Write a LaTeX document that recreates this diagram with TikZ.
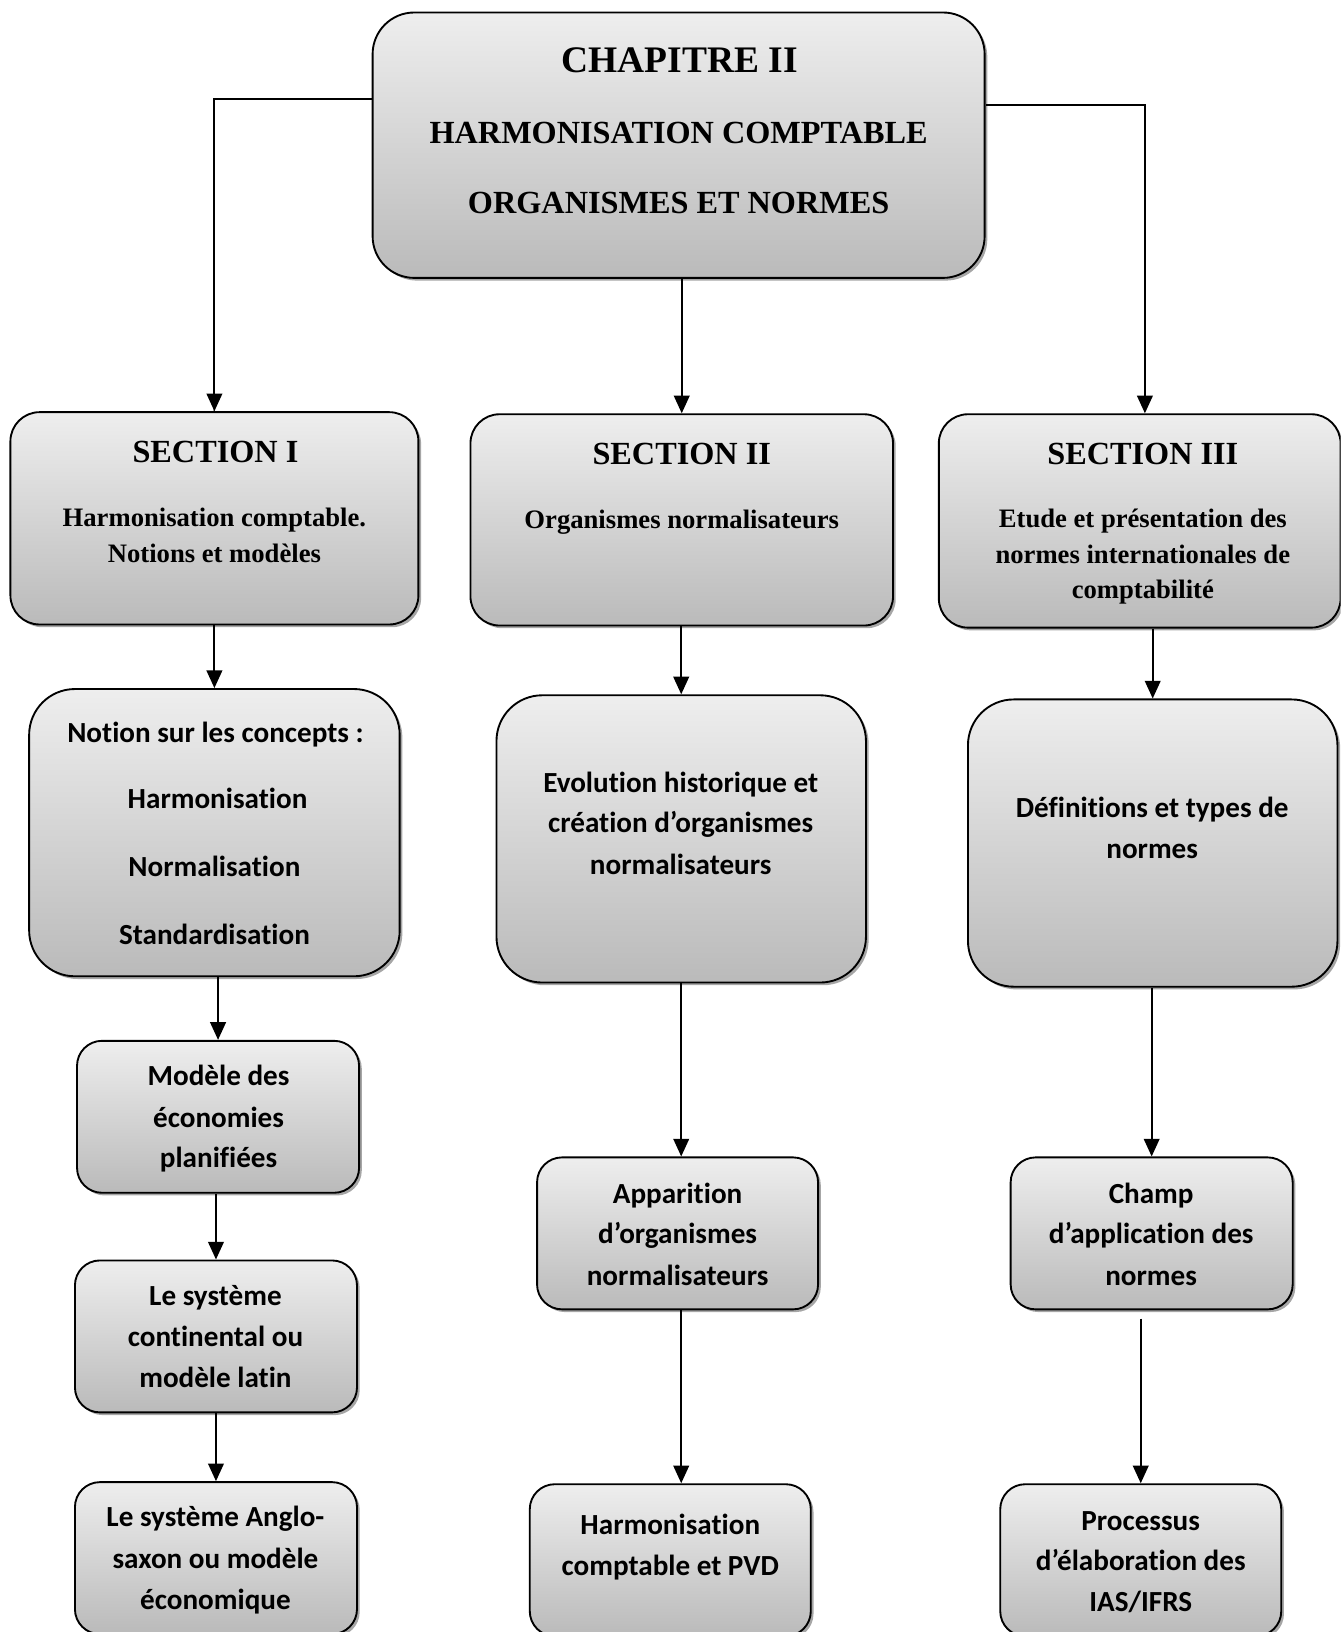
\documentclass[tikz,border=0pt]{standalone}
\usepackage{fontspec}
\setmainfont{Liberation Serif}
\newfontfamily\calfont[Ligatures=NoCommon]{Carlito}
\usetikzlibrary{arrows.meta,shadows}
\definecolor{gtop}{RGB}{238,238,238}
\definecolor{gbot}{RGB}{186,186,186}
\tikzset{
  gbox/.style={draw=black, line width=0.9pt, rounded corners=#1, top color=gtop, bottom color=gbot,
    drop shadow={shadow xshift=1.3pt, shadow yshift=-1.3pt, fill=black!50, opacity=0.7}, inner sep=0pt},
  gbox/.default=12pt,
  tA/.style={anchor=base, inner sep=0pt, font=\bfseries\fontsize{18}{20}\selectfont},
  tB/.style={anchor=base, inner sep=0pt, font=\bfseries\fontsize{15.5}{17}\selectfont},
  tC/.style={anchor=base, inner sep=0pt, font=\bfseries\fontsize{12.8}{14}\selectfont},
  tD/.style={anchor=base, inner sep=0pt, font=\calfont\bfseries\fontsize{14}{16}\selectfont},
  arr/.style={line width=1pt, -{Triangle[length=8.5pt,width=7.5pt]}},
  shd/.style={line width=1pt, draw=black!35, shift={(1.3pt,-1.3pt)}},
}
\begin{document}
\begin{tikzpicture}[x=0.5pt,y=-0.5pt]
\useasboundingbox (0,0) rectangle (1288,1568);
\clip (0,0) rectangle (1288,1568);
% boxes
\node[gbox=20pt, minimum width=294pt, minimum height=127.5pt] (top) at (652,139.5) {};
\node[gbox=14pt, minimum width=196pt, minimum height=102pt] (s1) at (206,498) {};
\node[gbox=14pt, minimum width=203pt, minimum height=101.5pt] (s2) at (655,499.5) {};
\node[gbox=14pt, minimum width=193pt, minimum height=102.5pt] (s3) at (1095,500.5) {};
\node[gbox=22pt, minimum width=178pt, minimum height=138pt] (n1) at (206,800) {};
\node[gbox=22pt, minimum width=177.5pt, minimum height=138pt] (e2) at (654.5,806) {};
\node[gbox=22pt, minimum width=177.5pt, minimum height=138pt] (d3) at (1107.5,810) {};
\node[gbox, minimum width=135.5pt, minimum height=73pt] (m1) at (209.5,1073) {};
\node[gbox, minimum width=135.5pt, minimum height=73pt] (l1) at (207.5,1284) {};
\node[gbox, minimum width=135.5pt, minimum height=73pt] (a1) at (207.5,1497) {};
\node[gbox, minimum width=135pt, minimum height=73pt] (a2) at (651,1185) {};
\node[gbox, minimum width=135pt, minimum height=73pt] (h2) at (644,1499) {};
\node[gbox, minimum width=135.5pt, minimum height=73pt] (c3) at (1106.5,1185) {};
\node[gbox, minimum width=135pt, minimum height=73pt] (p3) at (1096,1499) {};
% texts
\node[tA] (tt1) at (653,70) {CHAPITRE II};
\node[tB] (tt2) at (652,138) {HARMONISATION COMPTABLE};
\node[tB] (tt3) at (652,205) {ORGANISMES ET NORMES};
\node[tB] (s1a) at (207,444) {SECTION I};
\node[tC] (s1b) at (206,506) {Harmonisation comptable.};
\node[tC] (s1c) at (206,540) {Notions et modèles};
\node[tB] (s2a) at (655,446) {SECTION II};
\node[tC] (s2b) at (655,508) {Organismes normalisateurs};
\node[tB] (s3a) at (1098,446) {SECTION III};
\node[tC] (s3b) at (1098,507) {Etude et présentation des};
\node[tC] (s3c) at (1098,541) {normes internationales de};
\node[tC] (s3d) at (1098,575) {comptabilité};
\node[tD] (n1a) at (207,713) {Notion sur les concepts :};
\node[tD] (n1b) at (209,777) {Harmonisation};
\node[tD] (n1c) at (206,842) {Normalisation};
\node[tD] (n1d) at (206,907) {Standardisation};
\node[tD] (e2a) at (654,761) {Evolution historique et};
\node[tD] (e2b) at (654,800) {création d’organismes};
\node[tD] (e2c) at (654,840) {normalisateurs};
\node[tD] (d3a) at (1107,785) {Définitions et types de};
\node[tD] (d3b) at (1107,825) {normes};
\node[tD] (m1a) at (210,1043) {Modèle des};
\node[tD] (m1b) at (210,1083) {économies};
\node[tD] (m1c) at (210,1122) {planifiées};
\node[tD] (l1a) at (207,1254) {Le système};
\node[tD] (l1b) at (207,1294) {continental ou};
\node[tD] (l1c) at (207,1333) {modèle latin};
\node[tD] (a1a) at (207,1467) {Le système Anglo-};
\node[tD] (a1b) at (207,1507) {saxon ou modèle};
\node[tD] (a1c) at (207,1546) {économique};
\node[tD] (a2a) at (651,1156) {Apparition};
\node[tD] (a2b) at (651,1195) {d’organismes};
\node[tD] (a2c) at (651,1235) {normalisateurs};
\node[tD] (h2a) at (644,1474) {Harmonisation};
\node[tD] (h2b) at (644,1514) {comptable et PVD};
\node[tD] (c3a) at (1106,1156) {Champ};
\node[tD] (c3b) at (1106,1195) {d’application des};
\node[tD] (c3c) at (1106,1235) {normes};
\node[tD] (p3a) at (1096,1470) {Processus};
\node[tD] (p3b) at (1096,1509) {d’élaboration des};
\node[tD] (p3c) at (1096,1548) {IAS/IFRS};
% connectors
\coordinate (yl) at (0,95);
\coordinate (yr) at (0,101);
\coordinate (xr) at (1100,0);
\draw[shd] (top.west |- yl) -| (s1.north);
\draw[shd] (top.east |- yr) -- (xr |- yr);
\draw[arr] (top.west |- yl) -| (s1.north);
\draw[arr] (top.east |- yr) -| (xr |- s3.north);
\draw[arr] (top.south -| s2.north) -- (s2.north);
\draw[arr] (s1.south) -- (n1.north);
\draw[arr] (n1.south -| m1.north) -- (m1.north);
\draw[arr] (m1.south -| l1.north) -- (l1.north);
\draw[arr] (l1.south -| a1.north) -- (a1.north);
\draw[arr] (s2.south -| e2.north) -- (e2.north);
\draw[arr] (e2.south) -- (e2.south |- a2.north);
\draw[arr] (a2.south -| e2.south) -- (e2.south |- h2.north);
\draw[arr] (s3.south -| d3.north) -- (d3.north);
\draw[arr] (d3.south -| c3.north) -- (c3.north);
\draw[arr] ([yshift=-4pt]c3.south -| p3.north) -- (p3.north);
\end{tikzpicture}
\end{document}
